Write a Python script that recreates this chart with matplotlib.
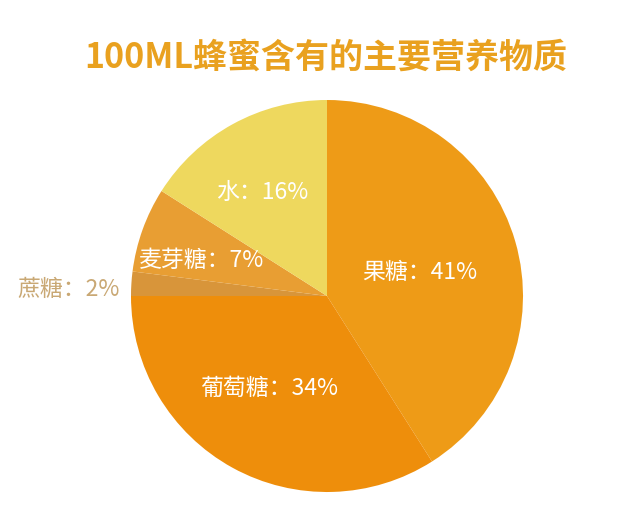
import matplotlib
matplotlib.use("Agg")
import matplotlib.pyplot as plt
import numpy as np

plt.rcParams['font.family'] = ['Noto Sans CJK SC', 'DejaVu Sans']

# data
names = ["果糖", "葡萄糖", "蔗糖", "麦芽糖", "水"]
shares = [41, 34, 2, 7, 16]
colors = ["#EE9B17", "#EE8E0B", "#D8953A", "#E89E33", "#EED85E"]
label_colors = ["white", "white", "#C9A874", "white", "white"]
label_dist = [0.49, 0.55, 1.32, 0.67, 0.63]  # fraction of radius
label_turn = [-0.6, -3.7, 1.8, 3.0, 2.7]     # degrees off the wedge middle

fig = plt.figure(figsize=(6.4, 5.12), dpi=100)
ax = fig.add_axes([0, 0, 1, 1])

cx, cy, r = 327, 216, 196
wedges, _ = ax.pie(shares, colors=colors, startangle=90, counterclock=False,
                   center=(cx, cy), radius=r, frame=True)
ax.set_xlim(0, 640)
ax.set_ylim(0, 512)
ax.set_aspect('equal')
ax.axis('off')

for w, name, val, lc, d, t in zip(wedges, names, shares, label_colors,
                                  label_dist, label_turn):
    mid = np.deg2rad((w.theta1 + w.theta2) / 2 + t)
    x = cx + d * r * np.cos(mid)
    y = cy + d * r * np.sin(mid)
    ax.text(x, y - 2, f"{name}：{val}%", color=lc, fontsize=16.5,
            fontweight='light', ha='center', va='center')

ax.text(326, 455, "100ML蜂蜜含有的主要营养物质", color="#E9A11F",
        fontsize=24.5, fontweight='bold', ha='center', va='center')

fig.savefig("out.png", dpi=100)
